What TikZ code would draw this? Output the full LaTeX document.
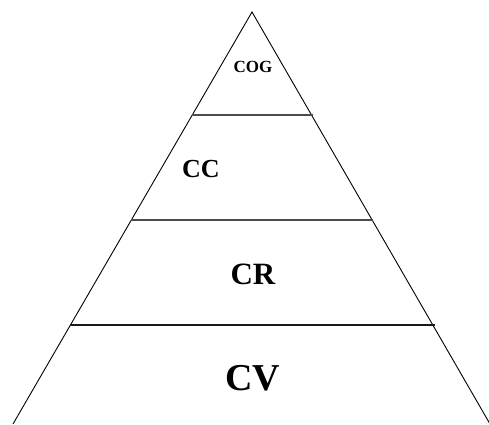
\documentclass[tikz,border=0pt]{standalone}
\usepackage{fontspec}
\setmainfont{Liberation Serif}
\begin{document}
\begin{tikzpicture}[x=1pt,y=-1pt,
  side/.style={draw=black,line width=0.9pt},
  level/.style={draw=black!70,line width=2pt},
  lbl/.style={inner sep=0pt,font=\bfseries}]
\useasboundingbox (0,0) rectangle (489,424);
\coordinate (apex) at (252,12);
\coordinate (bl) at (13,424);
\coordinate (br) at (490,424);
\draw[side] (bl) -- (apex) -- (br);
\coordinate (l1a) at (192,115); \coordinate (l1b) at (313,115);
\coordinate (l2a) at (131,220); \coordinate (l2b) at (373,220);
\coordinate (l3a) at (70,325); \coordinate (l3b) at (435,325);
\draw[level] (l1a) -- (l1b);
\draw[level] (l2a) -- (l2b);
\draw[level,draw=black!90] (l3a) -- (l3b);
\node[lbl,font=\bfseries\fontsize{17}{17}\selectfont] (cog) at (253,67) {COG};
\node[lbl,font=\bfseries\fontsize{26}{26}\selectfont] (cc) at (201,169) {CC};
\node[lbl,font=\bfseries\fontsize{31}{31}\selectfont] (cr) at (253,274) {CR};
\node[lbl,font=\bfseries\fontsize{38}{38}\selectfont] (cv) at (253,378) {CV};
\end{tikzpicture}
\end{document}
